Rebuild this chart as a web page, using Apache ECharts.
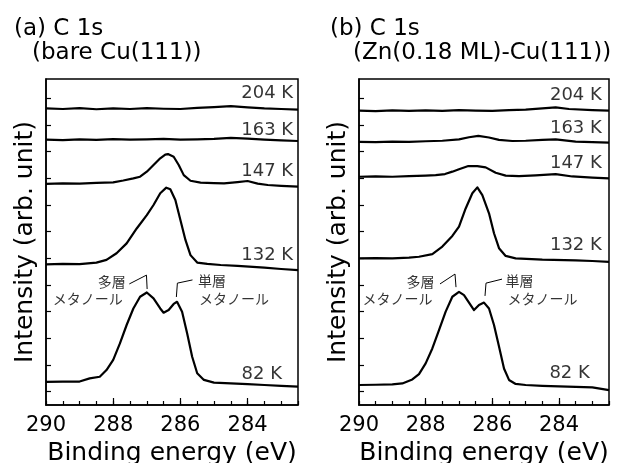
<!DOCTYPE html>
<html>
<head>
<meta charset="utf-8">
<script src="https://cdn.jsdelivr.net/npm/echarts@6/dist/echarts.min.js"></script>
<style>
  html, body { margin: 0; padding: 0; background: #fff; }
  #chart { width: 617px; height: 463px; }
</style>
</head>
<body>
<div id="chart"></div>
<script>
// temperatures for each trace (top to bottom)
var temps = ['204 K', '163 K', '147 K', '132 K', '82 K'];
var xTickLabels = [284, 286, 288, 290];
var xMajorTicks = [284, 286, 288];
var yTicks = [0.5, 1.5, 2.5, 3.5, 4.5, 5.5, 6.5, 7.5, 8.5, 9.5, 10.5, 11.5];

// (a) bare Cu(111): [binding energy eV, intensity offset]
var a204 = [[290,11.12],[289.5,11.10],[289,11.13],[288.5,11.09],[288,11.12],[287.5,11.10],[287,11.13],[286.5,11.11],[286,11.10],[285.5,11.14],[285,11.17],[284.5,11.21],[284,11.16],[283.5,11.12],[283,11.10],[282.5,11.08]];
var a163 = [[290,9.95],[289.5,9.93],[289,9.96],[288.5,9.94],[288,9.97],[287.5,9.95],[287,9.96],[286.5,9.98],[286,9.95],[285.5,9.96],[285,9.98],[284.5,10.02],[284,9.99],[283.5,9.95],[283,9.92],[282.5,9.90]];
var a147 = [[290,8.29],[289.5,8.31],[289,8.30],[288.5,8.33],[288,8.35],[287.7,8.42],[287.4,8.50],[287.2,8.56],[287.0,8.75],[286.8,9.0],[286.6,9.25],[286.45,9.39],[286.37,9.41],[286.2,9.31],[286.05,9.0],[285.9,8.62],[285.7,8.41],[285.4,8.34],[285,8.32],[284.7,8.31],[284.3,8.36],[284,8.40],[283.7,8.30],[283.4,8.25],[283,8.22],[282.5,8.19]];
var a132 = [[290,5.27],[289.5,5.29],[289,5.28],[288.5,5.34],[288.2,5.44],[287.9,5.69],[287.6,6.06],[287.3,6.62],[287,7.12],[286.8,7.5],[286.6,7.94],[286.42,8.15],[286.3,8.09],[286.15,7.69],[286,6.94],[285.85,6.19],[285.7,5.62],[285.5,5.34],[285.2,5.29],[284.8,5.25],[284.3,5.22],[283.5,5.15],[283,5.10],[282.5,5.06]];
var a82 = [[290,0.87],[289.5,0.88],[289,0.88],[288.7,1.0],[288.4,1.06],[288.2,1.31],[288,1.69],[287.8,2.31],[287.6,3.0],[287.4,3.62],[287.2,4.06],[287,4.22],[286.8,4.0],[286.6,3.62],[286.5,3.46],[286.35,3.56],[286.2,3.79],[286.1,3.87],[285.95,3.5],[285.8,2.69],[285.65,1.81],[285.5,1.19],[285.3,0.94],[285,0.84],[284.5,0.81],[284,0.78],[283.5,0.75],[283,0.72],[282.5,0.69]];

// (b) Zn(0.18 ML)-Cu(111)
var b204 = [[290,11.04],[289.5,11.02],[289,11.05],[288.5,11.03],[288,11.05],[287.5,11.03],[287,11.06],[286.5,11.04],[286,11.03],[285.5,11.06],[285,11.08],[284.5,11.12],[284.1,11.16],[283.7,11.10],[283,11.06],[282.5,11.04]];
var b163 = [[290,9.87],[289.5,9.86],[289,9.88],[288.5,9.87],[288,9.89],[287.5,9.91],[287,9.96],[286.7,10.04],[286.42,10.09],[286.1,10.03],[285.8,9.94],[285.4,9.90],[285,9.91],[284.5,9.94],[284.1,9.96],[283.5,9.88],[283,9.86],[282.5,9.84]];
var b147 = [[290,8.56],[289.5,8.57],[289,8.56],[288.5,8.58],[288,8.60],[287.7,8.62],[287.42,8.66],[287.2,8.75],[287,8.84],[286.72,8.96],[286.45,8.96],[286.2,8.91],[285.9,8.71],[285.6,8.60],[285.2,8.58],[284.7,8.61],[284.1,8.66],[283.6,8.57],[283,8.53],[282.5,8.50]];
var b132 = [[290,5.50],[289.5,5.51],[289,5.50],[288.5,5.53],[288.2,5.56],[287.8,5.66],[287.5,5.94],[287.2,6.34],[287,6.69],[286.8,7.37],[286.6,7.94],[286.45,8.16],[286.3,7.87],[286.1,7.19],[285.95,6.44],[285.8,5.88],[285.6,5.59],[285.3,5.50],[284.5,5.45],[283.5,5.42],[283,5.40],[282.5,5.37]];
var b82 = [[290,0.75],[289.5,0.76],[289,0.77],[288.7,0.81],[288.4,0.96],[288.2,1.16],[288,1.56],[287.8,2.12],[287.6,2.81],[287.4,3.5],[287.2,4.06],[287,4.24],[286.85,4.12],[286.7,3.84],[286.55,3.56],[286.4,3.75],[286.25,3.84],[286.1,3.62],[285.95,3.0],[285.8,2.19],[285.65,1.37],[285.5,0.94],[285.3,0.79],[285,0.75],[284.5,0.72],[284,0.70],[283.5,0.68],[283,0.66],[282.5,0.56]];

// temperature label anchors (right end of text)
var aTempPos = [[282.63,11.68],[282.63,10.31],[282.63,8.76],[282.63,5.62],[282.96,1.16]];
var bTempPos = [[282.70,11.62],[282.70,10.37],[282.70,9.07],[282.70,6.0],[283.06,1.18]];

// annotation leaders and text anchors
var aMultiLeader = [[287.52,4.54],[287.01,4.87],[286.99,4.35]];
var aMonoLeader = [[286.12,4.05],[286.09,4.57],[285.64,4.69]];
var aMultiText = [[287.61,4.63],[287.70,3.97]];
var aMonoText = [[285.49,4.65],[285.46,3.97]];
var bMultiLeader = [[287.57,4.54],[287.12,4.91],[287.09,4.42]];
var bMonoLeader = [[286.22,4.09],[286.19,4.57],[285.71,4.72]];
var bMultiText = [[287.72,4.63],[287.78,3.97]];
var bMonoText = [[285.62,4.65],[285.56,3.97]];
var multiWords = ['多層', 'メタノール'];
var monoWords = ['単層', 'メタノール'];

var latin = 'DejaVu Sans';
var cjk = 'Noto Sans CJK JP';

var chart = echarts.init(document.getElementById('chart'));

function textSeries(axis, pts, names, pos, font, size) {
  return {
    type: 'scatter', xAxisIndex: axis, yAxisIndex: axis / 2,
    symbolSize: 1, silent: true,
    itemStyle: { color: 'rgba(0,0,0,0)' },
    label: { show: true, position: pos, distance: 0, formatter: '{b}',
             color: '#000', fontFamily: font, fontSize: size },
    data: pts.map(function (p, i) { return { name: names[i], value: p }; })
  };
}

function panelSeries(axis, curves, tempPos, mL, moL, mT, moT) {
  var s = [];
  curves.forEach(function (c) {
    s.push({ type: 'line', xAxisIndex: axis, yAxisIndex: axis / 2, data: c,
             symbol: 'none', silent: true,
             lineStyle: { color: '#000', width: 2.2, join: 'round' } });
  });
  [mL, moL].forEach(function (l) {
    s.push({ type: 'line', xAxisIndex: axis, yAxisIndex: axis / 2, data: l,
             symbol: 'none', silent: true,
             lineStyle: { color: '#000', width: 1 } });
  });
  s.push(textSeries(axis, tempPos, temps, 'left', latin, 18));
  s.push(textSeries(axis, mT, multiWords, 'left', cjk, 14));
  s.push(textSeries(axis, moT, monoWords, 'right', cjk, 14));
  return s;
}

function xAxes(grid) {
  return [{
    type: 'value', gridIndex: grid, inverse: true, min: 282.5, max: 290, interval: 0.5,
    name: 'Binding energy (eV)', nameLocation: 'middle', nameGap: 35,
    nameTextStyle: { fontFamily: latin, fontSize: 25, color: '#000' },
    axisLine: { lineStyle: { color: '#000', width: 1.5 } },
    axisTick: { inside: true, length: 4, lineStyle: { color: '#000', width: 1.2 } },
    axisLabel: { color: '#000', fontFamily: latin, fontSize: 21, margin: 10,
                 formatter: function (v) { return xTickLabels.indexOf(v) >= 0 ? String(v) : ''; } },
    splitLine: { show: false }
  }, {
    type: 'value', gridIndex: grid, inverse: true, min: 282.5, max: 290, position: 'bottom',
    axisLine: { show: false },
    axisTick: { inside: true, length: 7, customValues: xMajorTicks, lineStyle: { color: '#000', width: 1.2 } },
    axisLabel: { show: false },
    splitLine: { show: false }
  }];
}

function yAxis(grid) {
  return {
    type: 'value', gridIndex: grid, min: 0, max: 12.225,
    name: 'Intensity (arb. unit)', nameLocation: 'middle', nameRotate: 90, nameGap: 8,
    nameTextStyle: { fontFamily: latin, fontSize: 25, color: '#000' },
    axisLine: { show: true, lineStyle: { color: '#000', width: 1.5 } },
    axisTick: { show: true, inside: true, length: 5, customValues: yTicks, lineStyle: { color: '#000', width: 1.2 } },
    axisLabel: { show: false },
    splitLine: { show: false }
  };
}

var titleStyle = { fontFamily: latin, fontSize: 23, fontWeight: 'normal', color: '#000' };

var option = {
  backgroundColor: '#fff',
  animation: false,
  title: [
    { text: '(a) C 1s', left: 14, top: 18, padding: 0, textStyle: titleStyle },
    { text: '(bare Cu(111))', left: 32, top: 42, padding: 0, textStyle: titleStyle },
    { text: '(b) C 1s', left: 330, top: 18, padding: 0, textStyle: titleStyle },
    { text: '(Zn(0.18 ML)-Cu(111))', left: 353, top: 42, padding: 0, textStyle: titleStyle }
  ],
  grid: [
    { left: 46, right: 319, top: 79, bottom: 58, outerBoundsMode: 'none', containLabel: false,
      show: true, borderColor: '#000', borderWidth: 1.5 },
    { left: 359, right: 8, top: 79, bottom: 58, outerBoundsMode: 'none', containLabel: false,
      show: true, borderColor: '#000', borderWidth: 1.5 }
  ],
  xAxis: xAxes(0).concat(xAxes(1)),
  yAxis: [yAxis(0), yAxis(1)],
  series: panelSeries(0, [a204, a163, a147, a132, a82], aTempPos, aMultiLeader, aMonoLeader, aMultiText, aMonoText)
    .concat(panelSeries(2, [b204, b163, b147, b132, b82], bTempPos, bMultiLeader, bMonoLeader, bMultiText, bMonoText))
};

chart.setOption(option);
</script>
</body>
</html>
